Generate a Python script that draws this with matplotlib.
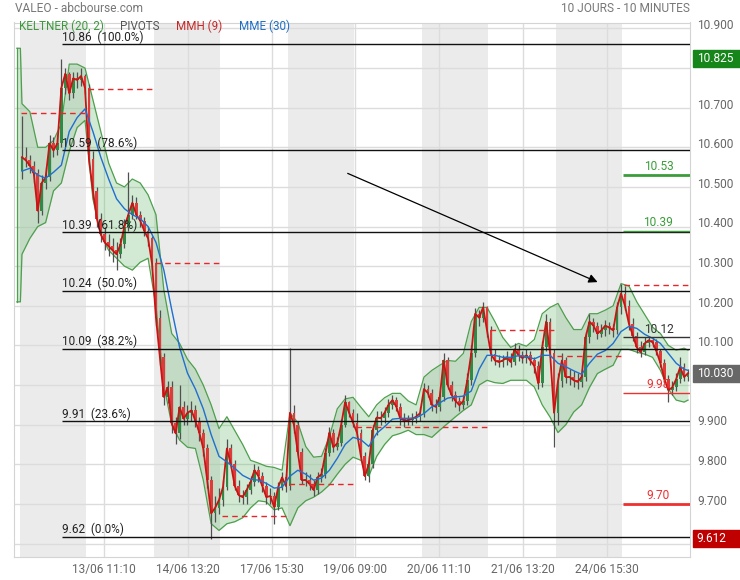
import numpy as np
import matplotlib
matplotlib.use("Agg")
import matplotlib.pyplot as plt
from matplotlib.patches import Rectangle
from matplotlib.transforms import blended_transform_factory, ScaledTranslation

plt.rcParams['font.family'] = ['Roboto', 'DejaVu Sans']

# ---- data (30 min bars, 9:00-17:30) ----
BARS_PER_DAY = 17
days = ["12/06", "13/06", "14/06", "17/06", "18/06", "19/06", "20/06", "21/06", "24/06", "25/06"]

first_open = 10.54
close = [
    10.575, 10.567, 10.554, 10.534, 10.44, 10.51, 10.524, 10.61, 10.592, 10.61, 10.75, 10.786, 10.736, 10.774, 10.77, 10.78, 10.75,
    10.57, 10.49, 10.42, 10.38, 10.36, 10.35, 10.34, 10.33, 10.355, 10.40, 10.43, 10.46, 10.43, 10.415, 10.39, 10.37, 10.307,
    10.17, 10.07, 9.97, 9.994, 9.903, 9.878, 9.944, 9.915, 9.93, 9.936, 9.91, 9.88, 9.84, 9.76, 9.676, 9.69, 9.71,
    9.742, 9.84, 9.80, 9.745, 9.722, 9.717, 9.735, 9.755, 9.785, 9.77, 9.745, 9.717, 9.72, 9.692, 9.742, 9.767, 9.745,
    9.93, 9.90, 9.83, 9.76, 9.76, 9.75, 9.735, 9.767, 9.775, 9.828, 9.88, 9.843, 9.853, 9.90, 9.957, 9.93, 9.905,
    9.88, 9.82, 9.77, 9.80, 9.886, 9.918, 9.916, 9.93, 9.95, 9.962, 9.945, 9.915, 9.911, 9.911, 9.915, 9.92, 9.929,
    9.99, 9.98, 9.95, 9.945, 9.97, 10.062, 10.0, 9.975, 9.96, 9.949, 9.96, 10.012, 10.08, 10.18, 10.17, 10.196, 10.138,
    10.078, 10.062, 10.058, 10.062, 10.07, 10.058, 10.09, 10.075, 10.068, 10.075, 10.062, 10.048, 10.004, 10.095, 10.16, 10.08, 9.93,
    10.01, 10.062, 10.02, 10.02, 10.012, 10.008, 10.02, 10.12, 10.16, 10.15, 10.13, 10.138, 10.15, 10.145, 10.138, 10.196, 10.231,
    10.20, 10.155, 10.125, 10.095, 10.083, 10.105, 10.113, 10.108, 10.085, 10.055, 10.015, 9.987, 9.994, 10.015, 10.045, 10.02, 10.03,
]
high = [
    10.68, 10.60, 10.58, 10.565, 10.545, 10.53, 10.55, 10.63, 10.625, 10.63, 10.824, 10.80, 10.79, 10.79, 10.79, 10.80, 10.785,
    10.76, 10.59, 10.50, 10.435, 10.40, 10.38, 10.37, 10.36, 10.37, 10.42, 10.537, 10.48, 10.475, 10.44, 10.425, 10.40, 10.375,
    10.32, 10.19, 10.08, 10.01, 10.01, 9.92, 10.0, 9.96, 9.95, 9.96, 9.95, 9.92, 9.89, 9.85, 9.77, 9.72, 9.74,
    9.76, 9.865, 9.85, 9.81, 9.76, 9.735, 9.75, 9.77, 9.80, 9.795, 9.78, 9.755, 9.74, 9.73, 9.755, 9.78, 9.775,
    10.093, 9.95, 9.91, 9.84, 9.78, 9.775, 9.76, 9.78, 9.79, 9.84, 9.895, 9.89, 9.87, 9.915, 9.975, 9.96, 9.94,
    9.93, 9.89, 9.83, 9.82, 9.90, 9.935, 9.935, 9.945, 9.965, 9.975, 9.97, 9.955, 9.93, 9.925, 9.93, 9.935, 9.945,
    10.005, 10.0, 9.99, 9.965, 9.985, 10.08, 10.07, 10.01, 9.985, 9.97, 9.975, 10.03, 10.10, 10.195, 10.19, 10.21, 10.20,
    10.15, 10.09, 10.075, 10.075, 10.085, 10.08, 10.105, 10.10, 10.085, 10.09, 10.085, 10.07, 10.06, 10.11, 10.18, 10.17, 10.09,
    10.03, 10.08, 10.07, 10.04, 10.035, 10.03, 10.04, 10.135, 10.18, 10.17, 10.16, 10.155, 10.165, 10.16, 10.155, 10.21, 10.254,
    10.25, 10.215, 10.17, 10.135, 10.11, 10.12, 10.125, 10.12, 10.115, 10.09, 10.065, 10.025, 10.01, 10.03, 10.07, 10.055, 10.04,
]
low = [
    10.52, 10.55, 10.535, 10.51, 10.41, 10.43, 10.495, 10.515, 10.575, 10.58, 10.60, 10.735, 10.72, 10.725, 10.75, 10.755, 10.735,
    10.55, 10.47, 10.40, 10.36, 10.34, 10.325, 10.31, 10.29, 10.32, 10.345, 10.39, 10.42, 10.42, 10.40, 10.375, 10.35, 10.29,
    10.15, 10.05, 9.95, 9.955, 9.88, 9.85, 9.865, 9.90, 9.90, 9.91, 9.895, 9.86, 9.82, 9.74, 9.612, 9.655, 9.675,
    9.695, 9.735, 9.79, 9.735, 9.705, 9.70, 9.70, 9.725, 9.745, 9.755, 9.73, 9.70, 9.70, 9.65, 9.685, 9.735, 9.73,
    9.735, 9.88, 9.82, 9.75, 9.745, 9.735, 9.72, 9.725, 9.755, 9.765, 9.82, 9.83, 9.835, 9.845, 9.895, 9.92, 9.895,
    9.865, 9.81, 9.76, 9.755, 9.79, 9.875, 9.90, 9.905, 9.92, 9.94, 9.935, 9.90, 9.895, 9.90, 9.90, 9.905, 9.91,
    9.92, 9.97, 9.935, 9.93, 9.935, 9.96, 9.99, 9.96, 9.945, 9.935, 9.94, 9.95, 10.0, 10.07, 10.15, 10.16, 10.12,
    10.06, 10.05, 10.045, 10.045, 10.05, 10.045, 10.05, 10.06, 10.055, 10.055, 10.05, 10.03, 9.99, 9.995, 10.085, 10.07, 9.843,
    9.90, 9.995, 10.005, 10.0, 9.995, 9.99, 9.995, 10.01, 10.105, 10.135, 10.115, 10.12, 10.125, 10.13, 10.12, 10.13, 10.18,
    10.19, 10.14, 10.11, 10.08, 10.07, 10.075, 10.095, 10.095, 10.075, 10.045, 10.005, 9.957, 9.975, 9.985, 10.005, 10.01, 10.01,
]

# Keltner (20, 2) channel, sampled every 2 bars
band_x = [-1.3, -0.4] + list(range(0, 170, 2)) + [169]
kelt_upper = [
    10.85, 10.85,
    10.71, 10.69, 10.60, 10.60, 10.617, 10.66, 10.81, 10.81, 10.80, 10.72, 10.64, 10.56, 10.51, 10.50, 10.52, 10.51, 10.48,
    10.43, 10.24, 10.13, 10.105, 10.065, 10.04, 10.00, 9.95, 9.89, 9.92, 9.885, 9.85, 9.81, 9.803, 9.795, 9.792, 9.785,
    9.93, 9.905, 9.845, 9.818, 9.82, 9.87, 9.94, 9.965, 9.969, 9.944, 9.92, 9.95, 9.968, 9.979, 9.979, 9.96, 9.95,
    10.02, 10.037, 10.05, 10.062, 10.06, 10.08, 10.16, 10.196, 10.196, 10.16, 10.12, 10.095, 10.105, 10.098, 10.115, 10.18, 10.196,
    10.206, 10.17, 10.14, 10.14, 10.18, 10.18, 10.189, 10.2, 10.256, 10.25, 10.21, 10.178, 10.146, 10.13, 10.10, 10.088, 10.093,
    10.088,
]
kelt_lower = [
    10.21, 10.21,
    10.33, 10.37, 10.40, 10.41, 10.49, 10.51, 10.59, 10.65, 10.668, 10.47, 10.38, 10.34, 10.32, 10.30, 10.29, 10.31, 10.32,
    10.20, 10.00, 9.90, 9.861, 9.843, 9.84, 9.76, 9.65, 9.633, 9.65, 9.655, 9.665, 9.69, 9.708, 9.705, 9.685, 9.69,
    9.645, 9.69, 9.708, 9.717, 9.73, 9.748, 9.775, 9.80, 9.818, 9.81, 9.77, 9.82, 9.85, 9.872, 9.878, 9.886, 9.875,
    9.875, 9.868, 9.886, 9.903, 9.92, 9.936, 9.95, 10.0, 10.012, 10.006, 10.004, 10.012, 10.012, 10.012, 9.995, 9.95, 9.919,
    9.88, 9.90, 9.932, 9.95, 9.994, 10.029, 10.04, 10.05, 10.09, 10.09, 10.083, 10.078, 10.07, 10.037, 9.99, 9.962, 9.957,
    9.962,
]

# MME (30), sampled every 2 bars
mme_x = list(range(0, 170, 2)) + [169]
mme = [
    10.54, 10.547, 10.53, 10.522, 10.537, 10.555, 10.64, 10.675, 10.697, 10.64, 10.575, 10.52, 10.47, 10.445, 10.43, 10.42, 10.40,
    10.36, 10.29, 10.19, 10.095, 10.03, 9.99, 9.94, 9.875, 9.82, 9.806, 9.79, 9.772, 9.762, 9.76, 9.752, 9.74, 9.742,
    9.77, 9.785, 9.775, 9.76, 9.765, 9.785, 9.815, 9.85, 9.868, 9.862, 9.845, 9.878, 9.895, 9.914, 9.916, 9.916, 9.917,
    9.928, 9.945, 9.955, 9.967, 9.97, 9.972, 9.985, 10.04, 10.075, 10.075, 10.07, 10.07, 10.074, 10.072, 10.066, 10.075, 10.075,
    10.055, 10.046, 10.036, 10.027, 10.055, 10.078, 10.087, 10.105, 10.135, 10.148, 10.143, 10.128, 10.118, 10.105, 10.08, 10.055, 10.04,
    10.037,
]

# pivots (one per day)
pivots = [10.686, 10.748, 10.309, 9.67, 9.751, 9.894, 9.894, 10.14, 10.074, 10.253]

# fibonacci retracement
fib_pct = [100.0, 78.6, 61.8, 50.0, 38.2, 23.6, 0.0]
fib_val = [10.86, 10.593, 10.385, 10.238, 10.091, 9.908, 9.617]
fib_txt = ["10.86", "10.59", "10.39", "10.24", "10.09", "9.91", "9.62"]

# levels for the current day
lvl_val = [10.53, 10.39, 10.12, 9.98, 9.70]
lvl_col = ['#3a9d3a', '#3a9d3a', '#333333', '#ee3030', '#ee3030']
lvl_lw = [2, 1, 1, 1, 2]

# right axis flags
flags = [(10.825, "10.825", '#16861a'), (10.030, "10.030", '#676767'), (9.612, "9.612", '#c00000')]

arrow_from = (82.0, 10.537)
arrow_to = (146.7, 10.257)

xtick_labels = ["13/06 11:10", "14/06 13:20", "17/06 15:30", "19/06 09:00",
                "20/06 11:10", "21/06 13:20", "24/06 15:30"]

# ---- plot ----
close = np.array(close)
high = np.array(high)
low = np.array(low)
idx = np.arange(len(close))
opens = np.r_[first_open, close[:-1]]
up = close >= opens

fig = plt.figure(figsize=(7.4, 5.8), dpi=100)
ax = fig.add_axes([14 / 740, 23 / 580, 676 / 740, 534.5 / 580])
ax.set_xlim(-2.02, 169.5)
ax.set_ylim(9.566, 10.915)

# alternate day shading
for d in range(0, len(days), 2):
    ax.axvspan(d * BARS_PER_DAY - 0.5, d * BARS_PER_DAY + 16.3, color='#ebebeb', lw=0, zorder=0)

# grid (labels hidden behind the price flags are left blank)
yt = np.round(np.arange(9.6, 10.91, 0.1), 1)
hidden = [9.6, 10.0, 10.8]
ax.set_yticks(yt)
ax.set_yticklabels(['' if v in hidden else f"{v:.3f}" for v in yt])
xt = []
for lbl in xtick_labels:
    d = days.index(lbl[:5])
    hh, mm = lbl[6:].split(':')
    xt.append(d * BARS_PER_DAY - 0.5 + ((int(hh) - 9) * 60 + int(mm)) / 30)
ax.set_xticks(xt)
ax.set_xticklabels(xtick_labels)
ax.grid(True, color='#dcdcdc', lw=1, zorder=0.5)
ax.set_axisbelow(True)
ax.yaxis.tick_right()
ax.tick_params(axis='both', length=0, labelsize=8.6, labelcolor='#666666')
ax.tick_params(axis='y', pad=5)
ax.tick_params(axis='x', pad=4)
for t in ax.get_yticklabels():
    t.set_transform(t.get_transform() + ScaledTranslation(0, 3 / 72, fig.dpi_scale_trans))
for s in ax.spines.values():
    s.set_color('#d4d4d4')

# keltner channel
ax.fill_between(band_x, kelt_lower, kelt_upper, color='#4caf50', alpha=0.25, lw=0, zorder=1)
ax.plot(band_x, kelt_upper, color='#4e9f4e', lw=0.9, zorder=1.2)
ax.plot(band_x, kelt_lower, color='#4e9f4e', lw=0.9, zorder=1.2)
ax.plot([band_x[0], band_x[0]], [kelt_lower[0], kelt_upper[0]], color='#4e9f4e', lw=0.9, zorder=1.2)

# candles
ax.vlines(idx, low, high, color='#505050', lw=0.9, zorder=2)
body = np.maximum(np.abs(close - opens), 0.004)
ax.bar(idx, body, bottom=np.minimum(close, opens), width=0.7,
       color=np.where(up, '#2f8a45', '#de3b3b'), lw=0, zorder=2.5)

# moving averages
ax.plot(idx, close, color='#c81414', lw=1.3, zorder=3)
ax.plot(mme_x, mme, color='#1f6fd0', lw=1.0, zorder=3.2)

# pivots
for d, v in enumerate(pivots):
    ax.hlines(v, d * BARS_PER_DAY - 0.3, d * BARS_PER_DAY + 16.3, colors='#e8262a',
              linestyles=(0, (4, 3)), lw=1, zorder=4)

# fibonacci
hi_idx = int(np.argmax(high))
ax.hlines(fib_val, hi_idx + 0.1, 169.5, colors='#111111', lw=1, zorder=5)
lift = ScaledTranslation(0, 2.5 / 72, fig.dpi_scale_trans)
for v, p, t in zip(fib_val, fib_pct, fib_txt):
    ax.text(hi_idx + 0.1, v, f"{t}  ({p:.1f}%)", fontsize=8.5, color='#222222',
            ha='left', va='baseline', zorder=6, transform=ax.transData + lift)

# current day levels
d0 = (len(days) - 1) * BARS_PER_DAY - 0.5
for v, c, w in zip(lvl_val, lvl_col, lvl_lw):
    ax.hlines(v, d0, 169.5, colors=c, lw=w, zorder=5)
    ax.text(d0 + 9.0, v + 0.004, f"{v:.2f}", fontsize=8.6, color=c, ha='center', va='bottom', zorder=6)

# arrow
ax.annotate('', xy=arrow_to, xytext=arrow_from,
            arrowprops=dict(arrowstyle='-|>', color='black', lw=0.9, mutation_scale=13),
            zorder=6)

# right side flags
tr = blended_transform_factory(ax.transAxes, ax.transData)
for v, t, c in flags:
    ax.add_patch(Rectangle((1.0045, v - 0.0215), 0.07, 0.043, transform=tr, color=c,
                           clip_on=False, zorder=10))
    ax.text(1.01, v, t, transform=tr, color='white', fontsize=8.6, ha='left', va='center',
            clip_on=False, zorder=11)

# header texts
fig.text(15 / 740, 1 - 9 / 580, "VALEO - abcbourse.com", fontsize=8.6, color='#777777', va='center')
fig.text(690 / 740, 1 - 9 / 580, "10 JOURS - 10 MINUTES", fontsize=8.6, color='#777777',
         va='center', ha='right')
legend = [("KELTNER (20, 2)", '#3c9a3c', 19), ("PIVOTS", '#555555', 120),
          ("MMH (9)", '#c62828', 176), ("MME (30)", '#1f6fc5', 239)]
for txt, col, px in legend:
    fig.text(px / 740, 1 - 26 / 580, txt, fontsize=8.4, color=col, va='center', zorder=12)

fig.savefig('out.png', dpi=100)
